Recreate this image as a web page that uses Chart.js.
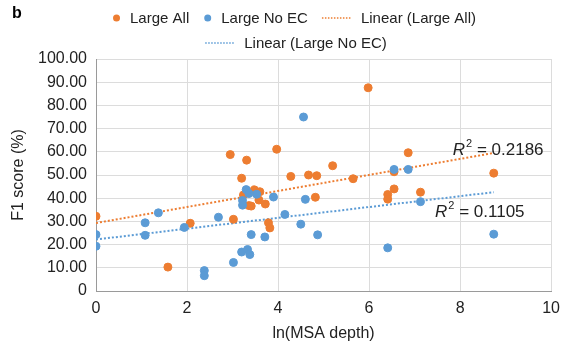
<!DOCTYPE html>
<html>
<head>
<meta charset="utf-8">
<script src="https://cdn.jsdelivr.net/npm/chart.js@4/dist/chart.umd.min.js"></script>
<style>
  html, body { margin: 0; padding: 0; background: #fff; }
</style>
</head>
<body>
<canvas id="f1Chart" width="568" height="346"></canvas>
<script>
// Large All (orange) - ln(MSA depth) vs F1 score
const largeAllX = [0, 1.58, 2.07, 2.95, 3.02, 3.2, 3.24, 3.31, 3.36, 3.41, 3.48, 3.6, 3.58, 3.72, 3.79, 3.82,
  3.97, 4.28, 4.67, 4.85, 4.82, 5.2, 5.65, 5.98, 6.41, 6.41, 6.55, 6.55, 6.86, 7.13, 8.74];
const largeAllY = [32.2, 10.3, 29.2, 58.8, 30.9, 48.6, 41.4, 56.4, 36.8, 36.6, 43.6, 42.8, 39.2, 37.5, 29.4, 27.2,
  61.1, 49.4, 50.0, 49.7, 40.4, 54.0, 48.4, 87.6, 41.6, 39.6, 44.0, 51.4, 59.6, 42.6, 50.8];

// Large No EC (blue)
const largeNoEcX = [0, 0, 1.08, 1.08, 1.37, 1.94, 2.38, 2.38, 2.69, 3.02, 3.2, 3.22, 3.22, 3.3, 3.33, 3.36,
  3.38, 3.41, 3.53, 3.71, 3.9, 4.15, 4.5, 4.56, 4.6, 4.87, 6.41, 6.55, 6.86, 7.13, 8.74];
const largeNoEcY = [24.3, 19.3, 29.4, 24.0, 33.7, 27.4, 8.8, 6.6, 31.8, 12.3, 16.8, 39.0, 37.0, 43.7, 17.9, 42.0,
  15.7, 24.3, 41.7, 23.3, 40.5, 33.0, 28.8, 75.0, 39.5, 24.2, 18.6, 52.4, 52.4, 38.5, 24.5];

// linear trendlines
const trendX = [0, 8.74];
const trendAllY = [29.3, 59.5];
const trendNoEcY = [22.2, 42.6];
const r2Values = ['0.2186', '0.1105'];

const seriesLabels = ['Large All', 'Large No EC', 'Linear (Large All)', 'Linear (Large No EC)'];
const orange = '#ED7D31';
const blue = '#5B9BD5';
const fontFamily = '"Liberation Sans", Arial, Helvetica, sans-serif';

function points(xs, ys) {
  return xs.map((x, i) => ({ x: x, y: ys[i] }));
}

// legend drawn by hand, two centred rows like the original
const topLegend = {
  id: 'topLegend',
  afterDraw(chart) {
    const ctx = chart.ctx;
    const sets = chart.data.datasets;
    const rows = [{ items: [0, 1, 2], cx: 294, cy: 18 }, { items: [3], cx: 296, cy: 43 }];
    ctx.save();
    ctx.font = '15px ' + fontFamily;
    ctx.textBaseline = 'middle';
    ctx.fillStyle = '#222';
    rows.forEach(row => {
      const widths = row.items.map(i => {
        const sym = sets[i].showLine ? 30 : 9;
        return sym + 9 + ctx.measureText(sets[i].label).width;
      });
      const total = widths.reduce((a, b) => a + b, 0) + 14 * (widths.length - 1);
      let x = row.cx - total / 2;
      row.items.forEach((i, k) => {
        const ds = sets[i];
        if (ds.showLine) {
          ctx.strokeStyle = ds.borderColor;
          ctx.lineWidth = 1.5;
          ctx.setLineDash([1.5, 1.5]);
          ctx.beginPath();
          ctx.moveTo(x, row.cy);
          ctx.lineTo(x + 30, row.cy);
          ctx.stroke();
          ctx.setLineDash([]);
          x += 30 + 9;
        } else {
          ctx.fillStyle = ds.backgroundColor;
          ctx.beginPath();
          ctx.arc(x + 4.5, row.cy, 3.5, 0, Math.PI * 2);
          ctx.fill();
          x += 9 + 9;
        }
        ctx.fillStyle = '#222';
        ctx.fillText(ds.label, x, row.cy + 1);
        x += ctx.measureText(ds.label).width + 14;
      });
    });
    // panel letter
    ctx.font = 'bold 16px ' + fontFamily;
    ctx.fillStyle = '#000';
    ctx.fillText('b', 12, 14);
    ctx.restore();
  }
};

// R^2 labels next to the trendlines
const r2Labels = {
  id: 'r2Labels',
  afterDatasetsDraw(chart) {
    const ctx = chart.ctx;
    const xs = chart.scales.x, ys = chart.scales.y;
    const spots = [[7.84, 60.7], [7.45, 34.1]];
    ctx.save();
    ctx.fillStyle = '#222';
    ctx.textBaseline = 'middle';
    spots.forEach((p, i) => {
      let x = xs.getPixelForValue(p[0]);
      const y = ys.getPixelForValue(p[1]);
      ctx.font = 'italic 17px ' + fontFamily;
      ctx.fillText('R', x, y);
      x += ctx.measureText('R').width + 1;
      ctx.font = '11px ' + fontFamily;
      ctx.fillText('2', x, y - 6);
      x += ctx.measureText('2').width;
      ctx.font = '17px ' + fontFamily;
      ctx.fillText(' = ' + r2Values[i], x, y);
    });
    ctx.restore();
  }
};

const ctx = document.getElementById('f1Chart').getContext('2d');

const config = {
  type: 'scatter',
  data: {
    datasets: [
      {
        label: seriesLabels[0],
        data: points(largeAllX, largeAllY),
        backgroundColor: orange,
        borderColor: orange,
        pointRadius: 4,
        borderWidth: 1,
        order: 1
      },
      {
        label: seriesLabels[1],
        data: points(largeNoEcX, largeNoEcY),
        backgroundColor: blue,
        borderColor: blue,
        pointRadius: 4,
        borderWidth: 1,
        order: 0
      },
      {
        label: seriesLabels[2],
        data: points(trendX, trendAllY),
        showLine: true,
        borderColor: orange,
        backgroundColor: orange,
        borderWidth: 2,
        borderDash: [2, 2],
        pointRadius: 0,
        order: 2
      },
      {
        label: seriesLabels[3],
        data: points(trendX, trendNoEcY),
        showLine: true,
        borderColor: blue,
        backgroundColor: blue,
        borderWidth: 2,
        borderDash: [2, 2],
        pointRadius: 0,
        order: 3
      }
    ]
  },
  options: {
    responsive: false,
    animation: false,
    layout: {
      padding: { top: 59, right: 9, left: 0, bottom: 0 }
    },
    plugins: {
      legend: { display: false },
      tooltip: { enabled: false }
    },
    scales: {
      x: {
        type: 'linear',
        min: 0,
        max: 10,
        afterFit: s => { s.height = 55; },
        ticks: {
          stepSize: 2,
          padding: 8,
          color: '#222',
          font: { family: fontFamily, size: 16 }
        },
        grid: { color: '#dcdcdc', drawTicks: false },
        border: { color: '#9a9a9a', width: 1 },
        title: {
          display: true,
          text: 'ln(MSA depth)',
          color: '#222',
          font: { family: fontFamily, size: 16 },
          padding: { top: 0, bottom: 3 }
        }
      },
      y: {
        min: 0,
        max: 100,
        afterFit: s => { s.width = 96; },
        ticks: {
          stepSize: 10,
          padding: 9,
          color: '#222',
          font: { family: fontFamily, size: 16 },
          callback: v => v === 0 ? '0' : v.toFixed(2)
        },
        grid: { color: '#dcdcdc', drawTicks: false },
        border: { color: '#9a9a9a', width: 1 },
        title: {
          display: true,
          text: 'F1 score (%)',
          color: '#222',
          font: { family: fontFamily, size: 16 },
          padding: { top: 9, bottom: 0 }
        }
      }
    }
  },
  plugins: [topLegend, r2Labels]
};

const f1Chart = new Chart(ctx, config);
</script>
</body>
</html>
